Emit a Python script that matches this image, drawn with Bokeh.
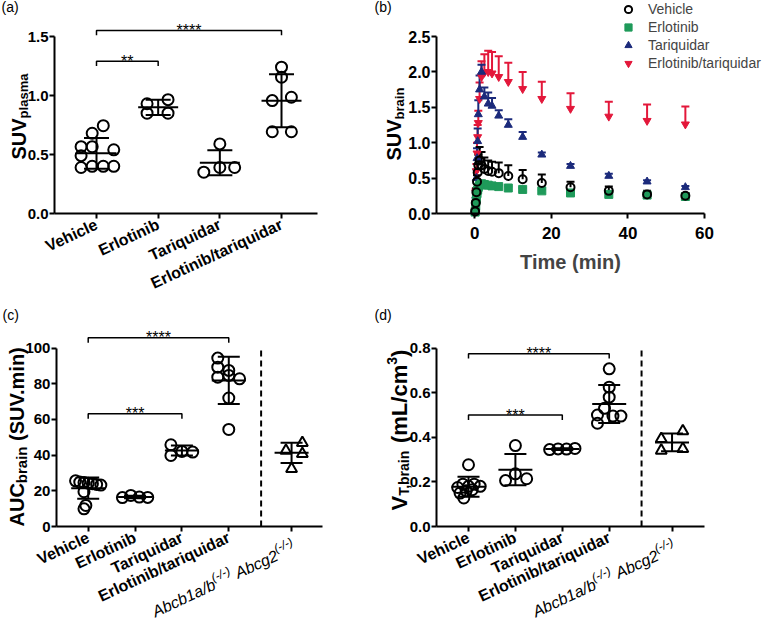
import math
from bokeh.plotting import figure
from bokeh.models import (Label, Whisker, TeeHead, ColumnDataSource, FixedTicker,
                          PrintfTickFormatter, Legend, LegendItem, Range1d)
from bokeh.layouts import column, row
from bokeh.embed import file_html
from bokeh.resources import INLINE

FONT = "Liberation Sans"
RED = "#e3173a"
BLUE = "#1b2a7b"
GREEN = "#1f9a5a"

# ---------------- data ----------------
groups = ["Vehicle", "Erlotinib", "Tariquidar", "Erlotinib/tariquidar"]

# (a) SUV plasma
a_vehicle = [0.744, 0.68, 0.566, 0.566, 0.54, 0.49, 0.39, 0.40, 0.40, 0.40]
a_vehicle_dx = [0.11, -0.07, -0.25, -0.07, 0.28, -0.25, -0.25, -0.07, 0.11, 0.28]
a_erlotinib = [0.93, 0.965, 0.85, 0.85]
a_erlotinib_dx = [-0.18, 0.16, -0.18, 0.16]
a_tariquidar = [0.59, 0.35, 0.39, 0.39]
a_tariquidar_dx = [0.0, -0.26, 0.0, 0.24]
a_combo = [1.24, 1.155, 0.957, 0.985, 0.693, 0.693]
a_combo_dx = [0.0, 0.0, -0.15, 0.16, -0.15, 0.16]
a_mean = [0.51, 0.90, 0.43, 0.955]
a_sd = [0.13, 0.065, 0.105, 0.225]
a_sig = [(0, 1, "**", 1.29), (0, 3, "****", 1.55)]

# (b) SUV brain time-activity curves
b_time = [0.083, 0.25, 0.417, 0.583, 0.75, 0.917, 1.25, 1.75, 2.5, 3.5, 4.5,
          6.25, 8.75, 12.5, 17.5, 25, 35, 45, 55]
b_vehicle = [0.03, 0.15, 0.30, 0.45, 0.58, 0.68, 0.75, 0.68, 0.63, 0.60, 0.59,
             0.57, 0.53, 0.485, 0.43, 0.37, 0.32, 0.27, 0.25]
b_vehicle_sd = [0.01, 0.03, 0.06, 0.09, 0.12, 0.15, 0.19, 0.19, 0.16, 0.15, 0.14,
                0.15, 0.15, 0.13, 0.12, 0.08, 0.06, 0.05, 0.04]
b_erlotinib = [0.02, 0.10, 0.20, 0.28, 0.33, 0.37, 0.40, 0.42, 0.41, 0.40, 0.39,
               0.38, 0.36, 0.34, 0.32, 0.29, 0.27, 0.26, 0.24]
b_erlotinib_sd = [0.01, 0.01, 0.02, 0.02, 0.02, 0.02, 0.02, 0.02, 0.02, 0.02, 0.02,
                  0.02, 0.02, 0.02, 0.02, 0.02, 0.02, 0.02, 0.02]
b_tariquidar = [0.05, 0.25, 0.50, 0.78, 1.02, 1.40, 1.75, 2.00, 1.65, 1.55, 1.52,
                1.38, 1.25, 1.08, 0.83, 0.67, 0.53, 0.45, 0.37]
b_tariquidar_sd = [0.02, 0.07, 0.12, 0.14, 0.18, 0.20, 0.20, 0.10, 0.13, 0.16, 0.11,
                   0.08, 0.08, 0.07, 0.03, 0.03, 0.03, 0.02, 0.02]
b_combo = [0.05, 0.30, 0.60, 0.85, 1.08, 1.28, 1.62, 1.93, 1.99, 2.00, 1.98,
           1.93, 1.86, 1.76, 1.62, 1.48, 1.37, 1.31, 1.26]
b_combo_sd = [0.01, 0.05, 0.10, 0.15, 0.17, 0.17, 0.23, 0.22, 0.26, 0.30, 0.30,
              0.29, 0.27, 0.24, 0.24, 0.22, 0.21, 0.23, 0.25]

# (c) AUC brain
c_pos = [0, 1, 2, 3, 4.34]
c_vehicle = [25.6, 24.9, 24.6, 24.3, 24.0, 23.6, 23.2, 19.5, 11.8, 9.9]
c_vehicle_dx = [-0.27, -0.18, -0.09, 0.0, 0.09, 0.18, 0.27, -0.09, -0.05, -0.09]
c_erlotinib = [16.2, 17.4, 16.5, 16.3]
c_erlotinib_dx = [-0.27, -0.09, 0.09, 0.27]
c_tariquidar = [45.8, 39.8, 42.1, 41.7]
c_tariquidar_dx = [-0.235, -0.235, 0.0, 0.23]
c_combo = [94.4, 89.3, 87.5, 83.7, 84.7, 82.8, 72.0, 54.4]
c_combo_dx = [-0.235, -0.235, 0.0, -0.235, 0.0, 0.23, 0.0, 0.0]
c_ko = [46.9, 42.6, 40.7, 32.3]
c_ko_dx = [0.23, -0.12, 0.23, 0.0]
c_mean = [21.5, 16.5, 42.6, 81.9, 41.3]
c_sd = [6.0, 0.7, 2.8, 13.3, 5.7]
c_sig = [(0, 2, "***", 63.2), (0, 3, "****", 105.8)]

# (d) VT brain
d_vehicle = [0.277, 0.175, 0.19, 0.18, 0.19, 0.18, 0.165, 0.16, 0.15, 0.128]
d_vehicle_dx = [0.0, -0.23, -0.12, 0.0, 0.12, 0.25, 0.08, -0.05, -0.18, -0.1]
d_erlotinib = [0.363, 0.206, 0.236, 0.214]
d_erlotinib_dx = [0.0, -0.21, 0.0, 0.24]
d_tariquidar = [0.345, 0.348, 0.347, 0.350]
d_tariquidar_dx = [-0.27, -0.09, 0.09, 0.27]
d_combo = [0.707, 0.625, 0.58, 0.53, 0.50, 0.495, 0.495, 0.463]
d_combo_dx = [0.0, 0.0, 0.0, -0.1, -0.25, 0.08, 0.25, -0.25]
d_ko = [0.428, 0.393, 0.348, 0.341]
d_ko_dx = [0.23, -0.23, 0.23, -0.23]
d_mean = [0.178, 0.255, 0.347, 0.549, 0.377]
d_sd = [0.045, 0.07, 0.004, 0.085, 0.04]
d_sig = [(0, 2, "***", 0.50), (0, 3, "****", 0.775)]

divider_x = 3.69

# ---------------- helpers ----------------
BOLD_W = {'A': .722, 'B': .722, 'C': .722, 'S': .667, 'U': .722, 'V': .667, 'T': .611,
          'L': .611, 'E': .667, 'a': .556, 'b': .611, 'c': .556, 'd': .611, 'e': .556,
          'g': .611, 'h': .611, 'i': .278, 'l': .278, 'm': .889, 'n': .611, 'o': .611,
          'p': .611, 'q': .611, 'r': .389, 's': .556, 't': .333, 'u': .611, '(': .333,
          ')': .333, '.': .278, '/': .278, ',': .278, ' ': .278, '-': .333}
REG_W = {'A': .667, 'b': .556, 'c': .5, 'g': .556, 'a': .556, '/': .278, ' ': .278,
         '(': .333, ')': .333, '-': .333}

ORIGIN = {}


def tw(text, size, bold=True):
    tab = BOLD_W if bold else REG_W
    return sum(tab.get(ch, .556) for ch in text) * size


def make_fig(cx, cy, w, h, x0px, xppu, y0px, yppu, xb, yb, ytick_size):
    """Canvas at page (cx, cy), size w x h. Value 0 sits at page x0px / y0px.
    The whole canvas is the frame; axes are pinned at the plot-area edges."""
    xr = ((cx - x0px) / xppu, (cx + w - x0px) / xppu)
    yr = (-(cy + h - y0px) / yppu, (y0px - cy) / yppu)
    p = figure(width=w, height=h, x_range=Range1d(*xr), y_range=Range1d(*yr),
               output_backend="svg", toolbar_location=None, title_location=None,
               min_border=0, min_border_left=0, min_border_right=0,
               min_border_top=0, min_border_bottom=0)
    p.outline_line_color = None
    p.xgrid.visible = False
    p.ygrid.visible = False
    p.background_fill_color = "white"
    p.border_fill_color = "white"
    p.xaxis.fixed_location = yb[0]
    p.yaxis.fixed_location = xb[0]
    p.xaxis.bounds = xb
    p.yaxis.bounds = yb
    for ax in (p.xaxis[0], p.yaxis[0]):
        ax.axis_line_width = 2
        ax.axis_line_color = "black"
        ax.major_tick_line_width = 2
        ax.major_tick_line_color = "black"
        ax.major_tick_out = 5
        ax.major_tick_in = 0
        ax.minor_tick_line_color = None
        ax.major_label_text_font = FONT
        ax.major_label_text_font_style = "bold"
        ax.major_label_text_font_size = "16px"
        ax.major_label_text_color = "black"
    p.yaxis.major_label_standoff = 1
    p.yaxis.major_label_text_font_size = ytick_size
    ORIGIN[p.id] = (xb[0], yb[0])
    return p


def panel_tag(p, text, ox, oy):
    x0, y0 = ORIGIN[p.id]
    p.add_layout(Label(x=x0, y=y0, x_offset=ox, y_offset=oy,
                       text=text, text_font=FONT, text_font_size="14px",
                       text_baseline="middle", text_align="left", text_color="black"))


def vtitle(p, pieces, ox, oy):
    """Vertical (bottom-to-top) title assembled from pieces: (text, size, shift)."""
    x0, y0 = ORIGIN[p.id]
    cum = 0.0
    for txt, size, shift in pieces:
        stripped = txt.lstrip(" ")
        cum += tw(txt[:len(txt) - len(stripped)], size)
        p.add_layout(Label(x=x0, y=y0, x_offset=ox + shift, y_offset=oy + cum,
                           text=stripped, angle=math.pi / 2, text_align="left",
                           text_baseline="alphabetic", text_font=FONT,
                           text_font_style="bold", text_font_size=f"{size}px",
                           text_color="black"))
        cum += tw(stripped, size)


def cat_axis(p, pos, labels):
    p.xaxis.ticker = FixedTicker(ticks=list(pos))
    p.xaxis.major_label_overrides = {k: v for k, v in zip(pos, labels)}
    p.xaxis.major_label_orientation = math.radians(25)
    p.xaxis.major_label_text_font_size = "16px"


def dots(p, pos, vals_list, dx_list, means, sds, markers, msize, mean_w, cap_w):
    for k, (vals, dxs) in enumerate(zip(vals_list, dx_list)):
        xs = [pos[k] + d for d in dxs]
        p.scatter(xs, vals, marker=markers[k], size=msize, fill_color=None,
                  line_color="black", line_width=2)
    src = ColumnDataSource(dict(x=list(pos[:len(means)]), m=means,
                                lo=[m - s for m, s in zip(means, sds)],
                                hi=[m + s for m, s in zip(means, sds)]))
    p.scatter("x", "m", source=src, marker="dash", size=mean_w, line_width=2,
              line_color="black")
    p.add_layout(Whisker(source=src, base="x", upper="hi", lower="lo", line_width=2,
                         line_color="black", level="overlay",
                         upper_head=TeeHead(size=cap_w, line_width=2),
                         lower_head=TeeHead(size=cap_w, line_width=2)))


def brackets(p, sigs, drop):
    for i, j, stars, h in sigs:
        p.line([i, i, j, j], [h - drop, h, h, h - drop], line_width=1.5,
               line_color="black")
        p.add_layout(Label(x=(i + j) / 2, y=h, y_offset=0, text=stars,
                           text_align="center", text_baseline="alphabetic",
                           text_font=FONT, text_font_size="16px", text_color="black"))


def ko_label(p, xcat):
    """Italic 'Abcb1a/b(-/-) Abcg2(-/-)' with raised parts, rotated like the ticks."""
    a = math.radians(25)
    ux, uy = math.cos(a), math.sin(a)
    nx, ny = -math.sin(a), math.cos(a)
    pieces = [("Abcb1a/b", 16, 0), ("(-/-)", 12, 6), (" Abcg2", 16, 0),
              ("(-/-)", 12, 6)]
    widths = [tw(t, s, bold=False) for t, s, _ in pieces]
    W = sum(widths)
    ex, ey = 3, -20
    sx, sy = ex - W * ux, ey - W * uy
    cum = 0.0
    for (txt, fs, rise), w in zip(pieces, widths):
        stripped = txt.lstrip(" ")
        lead = tw(txt[:len(txt) - len(stripped)], fs, bold=False)
        c = cum + lead
        p.add_layout(Label(x=xcat, y=0, x_offset=sx + c * ux + rise * nx,
                           y_offset=sy + c * uy + rise * ny, text=stripped, angle=a,
                           text_align="left", text_baseline="alphabetic",
                           text_font=FONT, text_font_style="italic",
                           text_font_size=f"{fs}px", text_color="black"))
        cum += w


# ---------------- panel a ----------------
pa = make_fig(8, 8, 372, 306, 104, 61.67, 221, 118, (-0.681, 3.584), (0, 1.5), "15px")
pa.yaxis.ticker = FixedTicker(ticks=[0, 0.5, 1.0, 1.5])
pa.yaxis.formatter = PrintfTickFormatter(format="%.1f")
cat_axis(pa, [0, 1, 2, 3], groups)
dots(pa, [0, 1, 2, 3], [a_vehicle, a_erlotinib, a_tariquidar, a_combo],
     [a_vehicle_dx, a_erlotinib_dx, a_tariquidar_dx, a_combo_dx], a_mean, a_sd,
     ["circle"] * 4, 11, 40, 25)
brackets(pa, a_sig, 0.04)
panel_tag(pa, "(a)", -53, 207)
vtitle(pa, [("SUV", 20, 0), ("plasma", 13, 5)], -36, 54)

# ---------------- panel b ----------------
pb = make_fig(380, 8, 390, 306, 482.3, 268 / 70, 221, 70.8, (-10, 60), (0, 2.5), "16px")
pb.yaxis.ticker = FixedTicker(ticks=[0, 0.5, 1.0, 1.5, 2.0, 2.5])
pb.yaxis.formatter = PrintfTickFormatter(format="%.1f")
pb.xaxis.ticker = FixedTicker(ticks=[0, 20, 40, 60])
pb.xaxis.major_label_text_font_size = "17px"
pb.xaxis.major_label_standoff = 8
pb.xaxis.axis_label = "Time (min)"
pb.xaxis.axis_label_text_font = FONT
pb.xaxis.axis_label_text_font_style = "bold"
pb.xaxis.axis_label_text_font_size = "20px"
pb.xaxis.axis_label_standoff = 9

series = [
    ("Erlotinib/tariquidar", b_combo, b_combo_sd, "inverted_triangle", RED, RED),
    ("Tariquidar", b_tariquidar, b_tariquidar_sd, "triangle", BLUE, BLUE),
    ("Erlotinib", b_erlotinib, b_erlotinib_sd, "square", GREEN, GREEN),
    ("Vehicle", b_vehicle, b_vehicle_sd, "circle", "black", None),
]
rends = {}
for name, vals, sds, mk, col, fill in series:
    src = ColumnDataSource(dict(t=b_time, v=vals, up=[v + s for v, s in zip(vals, sds)]))
    pb.add_layout(Whisker(source=src, base="t", upper="up", lower="v", line_width=2,
                          line_color=col, upper_head=TeeHead(size=8, line_width=2,
                                                             line_color=col),
                          lower_head=None))
    rends[name] = pb.scatter("t", "v", source=src, marker=mk, size=8,
                             fill_color=fill, line_color=col,
                             line_width=2 if fill is None else 1)

legend = Legend(items=[LegendItem(label=n, renderers=[rends[n]]) for n in
                       ["Vehicle", "Erlotinib", "Tariquidar", "Erlotinib/tariquidar"]],
                location=(246, 234), glyph_width=20, glyph_height=18, label_height=18,
                spacing=0, padding=0, border_line_color=None, background_fill_alpha=0,
                label_text_font=FONT, label_text_font_size="14px", label_standoff=10)
pb.add_layout(legend)
panel_tag(pb, "(b)", -62, 207)
vtitle(pb, [("SUV", 20, 0), ("brain", 13, 6)], -43, 53)

# ---------------- panel c ----------------
pc = make_fig(8, 314, 372, 315, 95.7, 46.86, 534, 1.784, (-0.677, 5.0), (0, 100), "15px")
pc.yaxis.ticker = FixedTicker(ticks=[0, 20, 40, 60, 80, 100])
pc.yaxis.formatter = PrintfTickFormatter(format="%d")
cat_axis(pc, c_pos, groups + [""])
pc.line([divider_x, divider_x], [0, 100], line_width=2, line_dash="6 4",
        line_color="black")
dots(pc, c_pos, [c_vehicle, c_erlotinib, c_tariquidar, c_combo, c_ko],
     [c_vehicle_dx, c_erlotinib_dx, c_tariquidar_dx, c_combo_dx, c_ko_dx],
     c_mean, c_sd, ["circle"] * 4 + ["triangle"], 11, 34, 22)
brackets(pc, c_sig, 2.8)
ko_label(pc, c_pos[4])
panel_tag(pc, "(c)", -54, 212)
vtitle(pc, [("AUC", 20, 0), ("brain", 15, 4), (" (SUV.min)", 20, 0)], -39, 0)

# ---------------- panel d ----------------
pd_ = make_fig(380, 314, 390, 315, 476, 46.9, 534, 223, (-0.682, 5.03), (0, 0.8), "15px")
pd_.yaxis.ticker = FixedTicker(ticks=[0, 0.2, 0.4, 0.6, 0.8])
pd_.yaxis.formatter = PrintfTickFormatter(format="%.1f")
cat_axis(pd_, c_pos, groups + [""])
pd_.line([divider_x, divider_x], [0, 0.8], line_width=2, line_dash="6 4",
         line_color="black")
dots(pd_, c_pos, [d_vehicle, d_erlotinib, d_tariquidar, d_combo, d_ko],
     [d_vehicle_dx, d_erlotinib_dx, d_tariquidar_dx, d_combo_dx, d_ko_dx],
     d_mean, d_sd, ["circle"] * 4 + ["triangle"], 11, 34, 22)
brackets(pd_, d_sig, 0.022)
ko_label(pd_, c_pos[4])
panel_tag(pd_, "(d)", -62, 212)
vtitle(pd_, [("V", 22, 0), ("T,brain", 14, 4), (" (mL/cm", 22, 0), ("3", 14, -8),
             (")", 22, 0)], -37, 16)

layout = column(row(pa, pb), row(pc, pd_))
open("out.html", "w").write(file_html(layout, INLINE))
